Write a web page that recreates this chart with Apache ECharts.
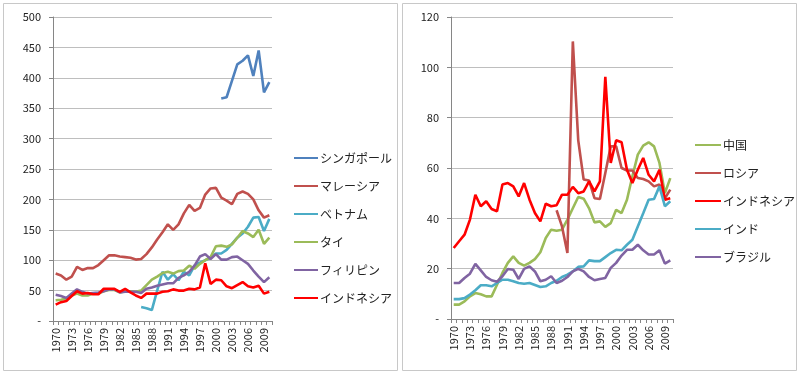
<!DOCTYPE html>
<html><head><meta charset="utf-8">
<script src="https://cdn.jsdelivr.net/npm/echarts@6/dist/echarts.min.js"></script>
<style>html,body{margin:0;padding:0;background:#fff}#c{width:800px;height:374px}</style>
</head><body><div id="c"></div>
<script>
var years = ['1970','1971','1972','1973','1974','1975','1976','1977','1978','1979',
 '1980','1981','1982','1983','1984','1985','1986','1987','1988','1989',
 '1990','1991','1992','1993','1994','1995','1996','1997','1998','1999',
 '2000','2001','2002','2003','2004','2005','2006','2007','2008','2009','2010'];

// Left chart
var leftNames = ['シンガポール','マレーシア','ベトナム','タイ','フィリピン','インドネシア'];
var singapore = [null,null,null,null,null,null,null,null,null,null,
 null,null,null,null,null,null,null,null,null,null,
 null,null,null,null,null,null,null,null,null,null,
 null,366,368,395,422,428,437,403,445,376,393];
var malaysia = [78,75,68,73,89,84,87,87,92,100,
 108,108,106,105,104,101,102,110,121,134,
 146,159,150,159,177,191,181,186,208,218,
 219,203,198,192,209,213,209,200,182,170,174];
var vietnam = [null,null,null,null,null,null,null,null,null,null,
 null,null,null,null,null,null,23,21,18,50,
 81,68,77,67,81,75,91,96,100,104,
 111,111,117,127,137,144,155,170,171,148,168];
var thailand = [34,35,37,42,45,42,42,45,45,49,
 51,51,47,49,49,48,50,59,68,73,
 79,81,78,82,83,91,86,94,100,105,
 123,124,122,126,137,148,144,138,150,127,137];
var philippines = [43,41,38,45,52,48,45,46,47,49,
 52,52,47,48,48,48,46,53,55,58,
 60,62,62,71,75,81,91,106,110,102,
 110,101,101,105,106,100,94,83,73,64,72];
var indonesiaL = [27,31,33,41,49,45,46,44,44,53,
 53,53,48,53,47,42,38,45,45,45,
 48,49,52,50,50,53,52,55,95,61,
 68,67,57,54,59,64,57,55,58,45,48];

// Right chart
var rightNames = ['中国','ロシア','インドネシア','インド','ブラジル'];
var china = [5.7,5.7,7,9,10.3,9.8,9,9,13.6,18.3,
 22.3,24.9,22.3,21.2,22.3,23.8,26.5,32.2,35.5,35.1,
 35.5,39.5,44,48.5,47.8,44,38.4,38.8,36.6,38.1,
 43.4,42.1,47.4,56.7,65.3,68.9,70.2,68.6,62,50,56];
var russia = [null,null,null,null,null,null,null,null,null,null,
 null,null,null,null,null,null,null,null,null,43.2,
 36.8,26.2,110.3,71,55.4,55,48,47.7,58,68.6,
 68.6,60,59,59,56,55.6,54.7,52.7,53.4,48,51.4];
var indonesiaR = [28.2,30.9,33.5,39.5,49.4,44.8,46.8,43.7,42.8,53.4,
 54,52.7,48.7,54,47.4,42.1,38.8,45.8,44.8,45.2,
 49.4,49.4,52.5,50,50.7,54.7,50.7,54.7,96.2,62,
 71,70.2,59.3,54,59.3,64,57.3,54.7,59.3,47.4,48];
var india = [7.9,7.9,8.3,9.7,11.4,13.4,13.4,13,14.3,15.6,
 15.6,15,14.3,14,14.3,13.5,12.7,13,14.3,15.2,
 16.7,17.6,18.9,20.7,20.9,23.3,23,23,24.6,26.2,
 27.5,27.3,29.5,31.5,36.8,42,47.4,47.7,52.7,44.8,46.8];
var brazil = [14.3,14.3,16.3,18,21.9,19.3,16.7,15.4,14.8,17,
 19.9,19.6,15.9,19.9,20.9,18.9,15,15.6,17,14.3,
 15.2,16.7,18.9,19.9,18.9,16.7,15.4,15.9,16.3,20.3,
 22.3,25.2,27.5,27.5,29.5,27.3,25.6,25.6,27.3,22,23.3];

var leftData = [singapore, malaysia, vietnam, thailand, philippines, indonesiaL];
var leftColors = ['#4F81BD','#C0504D','#4BACC6','#9BBB59','#8064A2','#FF0000'];
var rightData = [china, russia, indonesiaR, india, brazil];
var rightColors = ['#9BBB59','#C0504D','#FF0000','#4BACC6','#8064A2'];

var FONT = '"Noto Sans CJK JP", "Liberation Sans", sans-serif';
var txtColor = '#222';

function xAxis(gi){
  return {type:'category', gridIndex:gi, data:years, boundaryGap:true,
    axisLine:{lineStyle:{color:'#868686', width:1}},
    axisTick:{show:true, interval:0, length:4, lineStyle:{color:'#868686'}},
    axisLabel:{interval:2, rotate:90, margin:7, color:txtColor, fontSize:11, fontFamily:FONT}};
}
function yAxis(gi, max, interval){
  return {type:'value', gridIndex:gi, min:0, max:max, interval:interval,
    axisLine:{show:true, lineStyle:{color:'#868686', width:1}},
    axisTick:{show:true, length:4, lineStyle:{color:'#868686'}},
    splitLine:{lineStyle:{color:'#BEBEBE', width:1}},
    axisLabel:{margin:12, color:txtColor, fontSize:11, fontFamily:FONT,
      formatter:function(v){return v===0?'-':String(v);}}};
}

var series = [];
leftData.forEach(function(d,i){
  series.push({name:leftNames[i], type:'line', xAxisIndex:0, yAxisIndex:0, data:d,
    showSymbol:false, symbol:'none', connectNulls:false, color:leftColors[i],
    lineStyle:{width:2.6, color:leftColors[i]}, animation:false});
});
rightData.forEach(function(d,i){
  series.push({name:rightNames[i], type:'line', xAxisIndex:1, yAxisIndex:1, data:d,
    showSymbol:false, symbol:'none', connectNulls:false, color:rightColors[i],
    lineStyle:{width:2.6, color:rightColors[i]}, animation:false});
});

var chart = echarts.init(document.getElementById('c'), null, {renderer:'canvas'});
chart.setOption({
  animation:false,
  backgroundColor:'#fff',
  graphic:[
    {type:'rect', shape:{x:3.5, y:3.5, width:394, height:367}, style:{fill:'none', stroke:'#C8C8C8', lineWidth:1}, z:-1},
    {type:'rect', shape:{x:402.5, y:3.5, width:394, height:367}, style:{fill:'none', stroke:'#C8C8C8', lineWidth:1}, z:-1}
  ],
  grid:[
    {left:53, right:528, top:17, bottom:53, containLabel:false},
    {left:451, right:127, top:17, bottom:55, containLabel:false}
  ],
  xAxis:[xAxis(0), xAxis(1)],
  yAxis:[yAxis(0,500,50), yAxis(1,120,20)],
  legend:[
    {data:leftNames, orient:'vertical', left:289, top:147, itemWidth:24, itemHeight:2, icon:'rect',
     itemGap:16, textStyle:{color:txtColor, fontSize:12, fontFamily:FONT, padding:[0,0,0,-3]}},
    {data:rightNames, orient:'vertical', left:690, top:134, itemWidth:26, itemHeight:2, icon:'rect',
     itemGap:16, textStyle:{color:txtColor, fontSize:12, fontFamily:FONT, padding:[0,0,0,-3]}}
  ],
  series:series
});
</script></body></html>
